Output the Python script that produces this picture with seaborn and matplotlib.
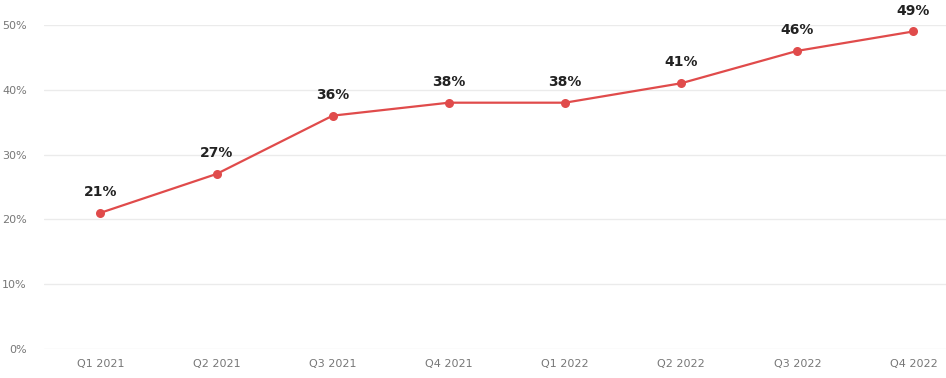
import seaborn as sns
import pandas as pd
import matplotlib
import matplotlib.pyplot as plt
from matplotlib.ticker import FuncFormatter

matplotlib.use('Agg')

sns.set_theme(style="white")
plt.rcParams['font.family'] = ['DejaVu Sans']

quarters = ['Q1 2021', 'Q2 2021', 'Q3 2021', 'Q4 2021',
            'Q1 2022', 'Q2 2022', 'Q3 2022', 'Q4 2022']
share = [21, 27, 36, 38, 38, 41, 46, 49]

line_color = '#e04b4b'

df = pd.DataFrame({'Quarter': quarters, 'Share': share})

fig = plt.figure(figsize=(9.46, 3.78), dpi=100)
ax = fig.add_axes([0.046, 0.077, 0.954, 0.857])

sns.lineplot(data=df, x='Quarter', y='Share', ax=ax, color=line_color,
             linewidth=1.6, marker='o', markersize=6.5,
             markeredgewidth=0, sort=False)

#value labels above each point
for i, v in enumerate(share):
    ax.annotate(f'{v}%', (i, v), xytext=(0, 10), textcoords='offset points',
                ha='center', va='bottom', fontsize=10, fontweight='bold',
                color='#222222', annotation_clip=False)

ax.set_ylim(0, 50)
ax.set_xlim(-0.49, 7.28)
ax.set_yticks(range(0, 51, 10))
ax.yaxis.set_major_formatter(FuncFormatter(lambda y, _: f'{int(y)}%'))
ax.grid(axis='y', color='#ebebeb', linewidth=1)
ax.set_axisbelow(True)
ax.set_xlabel('')
ax.set_ylabel('')
ax.tick_params(axis='both', length=0, labelsize=8, colors='#777777')
ax.tick_params(axis='x', pad=7)
ax.tick_params(axis='y', pad=12)
for s in ax.spines.values():
    s.set_visible(False)

fig.savefig('out.png', dpi=100)
